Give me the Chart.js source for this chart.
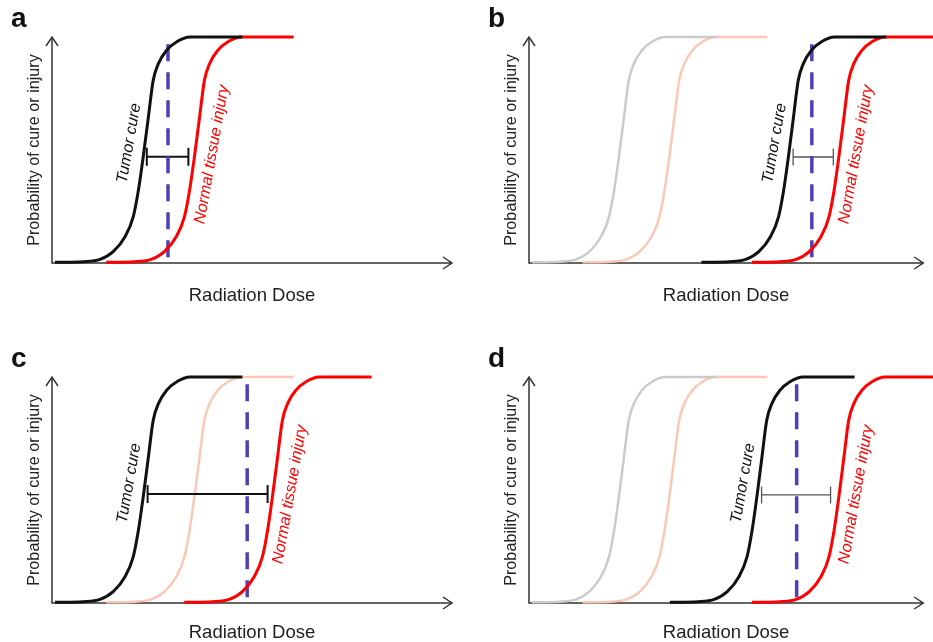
<!DOCTYPE html>
<html>
<head>
<meta charset="utf-8">
<script src="https://cdn.jsdelivr.net/npm/chart.js@4"></script>
<style>
  html, body { margin: 0; padding: 0; background: #fff; }
  #wrap { position: relative; width: 933px; height: 642px; overflow: hidden; }
  .panel { position: absolute; }
</style>
</head>
<body>
<div id="wrap">
  <div class="panel" style="left:0;top:0"><canvas id="panel0" width="466" height="320"></canvas></div>
  <div class="panel" style="left:466px;top:0"><canvas id="panel1" width="467" height="320"></canvas></div>
  <div class="panel" style="left:0;top:320px"><canvas id="panel2" width="466" height="322"></canvas></div>
  <div class="panel" style="left:466px;top:320px"><canvas id="panel3" width="467" height="322"></canvas></div>
</div>
<script>
// data (dose and probability both on a 0-100 scale)

const panelLetters = ['a', 'b', 'c', 'd'];

const curveDose = [0.75, 7.8, 12, 15.3, 18.25, 20.3, 21.6, 22.8, 24.1, 25.3, 26.6, 28.7, 31.2, 34.5, 47.6];
const curveProb = [0.3, 0.6, 1.6, 5, 11.6, 20.4, 32.2, 46.9, 64.6, 80.8, 88.2, 94.2, 97.9, 100, 100];

// how far each curve sits along the dose axis, per panel
const tumorShift = [0, 43, 0, 35];
const injuryShift = [12.8, 55.8, 32.3, 55.8];
const oldTumorShift = [null, 0, null, 0];       // faded grey curve
const oldInjuryShift = [null, 12.8, 12.8, 12.8]; // faded pink curve

// prescribed dose (dashed line) and therapeutic window bar
const prescribedDose = [29, 71.75, 48.8, 67.9];
const windowFrom = [23.7, 67, 23.9, 59];
const windowTo = [34.1, 77.2, 53.9, 76.5];
const windowProb = [47, 46.9, 48.2, 47.8];

// layout of each canvas

const panelPadding = [
  { left: 52, right: 14, top: 37, bottom: 57 },
  { left: 63, right: 5, top: 37, bottom: 57 },
  { left: 52, right: 14, top: 57, bottom: 39 },
  { left: 63, right: 5, top: 57, bottom: 39 }
];
const xTitleGap = [32.5, 32.5, 30, 30];
const thinWindow = [false, true, false, true];

const FONT = '"Liberation Sans", Arial, Helvetica, sans-serif';

function curve(shift) {
  return curveDose.map((d, i) => ({ x: d + shift, y: curveProb[i] }));
}

// axes with arrow heads, titles and the rotated curve labels
const decorations = {
  id: 'decorations',
  beforeDatasetsDraw(chart) {
    const { ctx, chartArea: area } = chart;
    ctx.save();
    ctx.strokeStyle = '#333';
    ctx.lineWidth = 1.5;
    ctx.beginPath();
    ctx.moveTo(area.left, area.top);
    ctx.lineTo(area.left, area.bottom);
    ctx.lineTo(area.right, area.bottom);
    ctx.stroke();

    ctx.beginPath();
    ctx.moveTo(area.left - 6, area.top + 9);
    ctx.lineTo(area.left, area.top);
    ctx.lineTo(area.left + 6, area.top + 9);
    ctx.moveTo(area.right - 9, area.bottom - 6);
    ctx.lineTo(area.right, area.bottom);
    ctx.lineTo(area.right - 9, area.bottom + 6);
    ctx.stroke();
    ctx.restore();
  },
  afterDatasetsDraw(chart, args, opts) {
    const { ctx, chartArea: area, scales: { x, y } } = chart;
    const i = opts.panel;
    ctx.save();

    // panel letter
    ctx.fillStyle = '#111';
    ctx.font = 'bold 28px ' + FONT;
    ctx.textAlign = 'left';
    ctx.textBaseline = 'alphabetic';
    ctx.fillText(panelLetters[i], area.left - 41, area.top - 10);

    // axis titles
    ctx.fillStyle = '#222';
    ctx.textAlign = 'center';
    ctx.textBaseline = 'middle';
    ctx.font = '18.5px ' + FONT;
    ctx.fillText('Radiation Dose', (area.left + area.right) / 2, area.bottom + xTitleGap[i]);

    ctx.save();
    ctx.translate(area.left - 17, (area.top + area.bottom) / 2);
    ctx.rotate(-Math.PI / 2);
    ctx.font = '16.2px ' + FONT;
    ctx.fillText('Probability of cure or injury', 0, 0);
    ctx.restore();

    // labels along the curves
    const angle = -80 * Math.PI / 180;
    ctx.font = 'italic 16px ' + FONT;

    ctx.save();
    ctx.translate(x.getPixelForValue(tumorShift[i] + 19.3), y.getPixelForValue(53));
    ctx.rotate(angle);
    ctx.fillStyle = '#111';
    ctx.fillText('Tumor cure', 0, 0);
    ctx.restore();

    ctx.save();
    ctx.translate(x.getPixelForValue(injuryShift[i] + 27.2), y.getPixelForValue(48));
    ctx.rotate(angle);
    ctx.fillStyle = '#ff0000';
    ctx.fillText('Normal tissue injury', 0, 0);
    ctx.restore();

    ctx.restore();
  }
};

panelLetters.forEach((letter, i) => {

  const thin = thinWindow[i];

  // first dataset is drawn on top
  const datasets = [
    {
      data: curve(tumorShift[i]),
      borderColor: '#111',
      borderWidth: 3,
      cubicInterpolationMode: 'monotone'
    },
    {
      data: curve(injuryShift[i]),
      borderColor: '#ff0000',
      borderWidth: 3,
      cubicInterpolationMode: 'monotone'
    },
    {
      data: [
        { x: prescribedDose[i], y: 2.5 },
        { x: prescribedDose[i], y: 98 }
      ],
      borderColor: '#4f3fb8',
      borderWidth: 3.5,
      borderDash: [17, 11]
    },
    {
      data: [
        { x: windowFrom[i], y: windowProb[i] },
        { x: windowTo[i], y: windowProb[i] }
      ],
      borderColor: thin ? '#555' : '#111',
      borderWidth: thin ? 1.3 : 2,
      pointStyle: 'line',
      pointRotation: 90,
      pointRadius: thin ? 8.5 : 9,
      pointBorderWidth: thin ? 1.3 : 2,
      pointBorderColor: thin ? '#555' : '#111'
    }
  ];

  if (oldTumorShift[i] !== null) {
    datasets.push({
      data: curve(oldTumorShift[i]),
      borderColor: '#cbcbcb',
      borderWidth: 2.5,
      cubicInterpolationMode: 'monotone'
    });
  }
  if (oldInjuryShift[i] !== null) {
    datasets.push({
      data: curve(oldInjuryShift[i]),
      borderColor: '#fcc8b6',
      borderWidth: 2.5,
      cubicInterpolationMode: 'monotone'
    });
  }

  datasets.forEach(ds => {
    ds.clip = false;
    ds.fill = false;
    if (ds.pointRadius === undefined) ds.pointRadius = 0;
  });

  new Chart(document.getElementById('panel' + i), {
    type: 'line',
    data: { datasets: datasets },
    options: {
      responsive: false,
      animation: false,
      events: [],
      layout: { padding: panelPadding[i] },
      plugins: {
        legend: { display: false },
        tooltip: { enabled: false },
        decorations: { panel: i }
      },
      scales: {
        x: { type: 'linear', min: 0, max: 100, display: false },
        y: { type: 'linear', min: 0, max: 100, display: false }
      }
    },
    plugins: [decorations]
  });
});
</script>
</body>
</html>
